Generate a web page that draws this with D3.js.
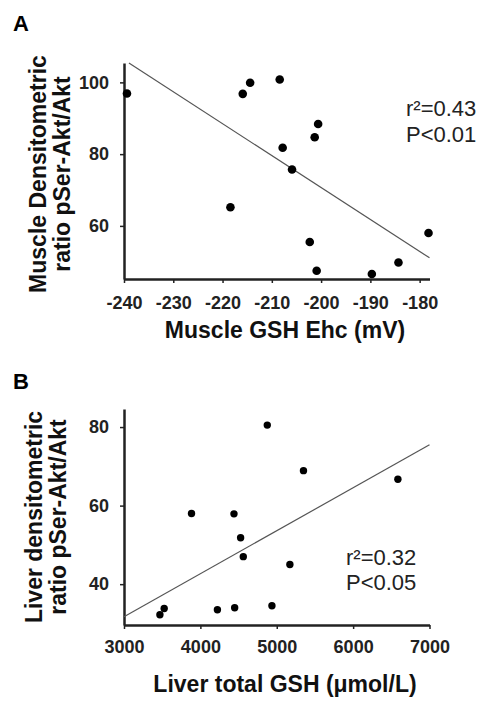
<!DOCTYPE html>
<html>
<head>
<meta charset="utf-8">
<script src="https://cdn.jsdelivr.net/npm/d3@7"></script>
<style>
  body { margin: 0; background: #fff; }
</style>
</head>
<body>
<script>
// Panel A: muscle GSH Ehc vs pSer-Akt/Akt
const muscleEhc = [-239.4, -215.9, -214.4, -208.4, -200.6, -201.3, -207.8, -205.9, -218.4, -202.3, -200.9, -189.7, -184.3, -178.2];
const muscleAkt = [96.9, 96.8, 99.9, 100.8, 88.4, 84.7, 81.8, 75.7, 65.2, 55.5, 47.5, 46.6, 49.8, 58.0];
const muscleFit = [[-239, 105.4], [-178, 51.1]];
const muscleTicksX = [-240, -230, -220, -210, -200, -190, -180];
const muscleTicksY = [60, 80, 100];

// Panel B: liver total GSH vs pSer-Akt/Akt
const liverGsh = [3470, 3526, 3884, 4223, 4440, 4449, 4527, 4562, 4876, 4937, 5172, 5350, 6586];
const liverAkt = [32.2, 33.8, 58.0, 33.5, 57.9, 34.0, 51.8, 47.0, 80.5, 34.5, 45.0, 68.9, 66.7];
const liverFit = [[3000, 31.7], [7000, 75.5]];
const liverTicksX = [3000, 4000, 5000, 6000, 7000];
const liverTicksY = [40, 60, 80];

const FONT = 'Arial, "Liberation Sans", Helvetica, sans-serif';

const svg = d3.select('body').append('svg')
    .attr('width', 483)
    .attr('height', 703)
    .style('font-family', FONT);

function styleAxis(a) {
    a.select('.domain').attr('stroke', '#222').attr('stroke-width', 2.5);
    a.selectAll('.tick line').attr('stroke', '#222').attr('stroke-width', 1.5);
    a.selectAll('.tick text')
        .style('font-family', FONT)
        .style('font-size', '18px')
        .style('font-weight', 'bold')
        .attr('fill', '#222');
}

function panel(cfg) {
    const x = d3.scaleLinear().domain(cfg.xDomain).range([124, 429.5]);
    const y = d3.scaleLinear().domain(cfg.yDomain).range([cfg.bottom, cfg.top]);
    const g = svg.append('g');
    const fmt = d => String(d);

    g.append('g')
        .attr('transform', `translate(0,${cfg.bottom})`)
        .call(d3.axisBottom(x).tickValues(cfg.ticksX).tickFormat(fmt)
            .tickSize(4).tickSizeOuter(0).tickPadding(cfg.padX))
        .call(styleAxis);

    g.append('g')
        .attr('transform', 'translate(124,0)')
        .call(d3.axisLeft(y).tickValues(cfg.ticksY).tickFormat(fmt)
            .tickSize(4).tickSizeOuter(0).tickPadding(11))
        .call(styleAxis);

    g.append('line')
        .attr('x1', x(cfg.fit[0][0])).attr('y1', y(cfg.fit[0][1]))
        .attr('x2', x(cfg.fit[1][0])).attr('y2', y(cfg.fit[1][1]))
        .attr('stroke', '#555').attr('stroke-width', 1.2);

    g.selectAll('circle.pt')
        .data(cfg.xs.map((v, i) => [v, cfg.ys[i]]))
        .join('circle')
        .attr('class', 'pt')
        .attr('cx', d => x(d[0]))
        .attr('cy', d => y(d[1]))
        .attr('r', cfg.r)
        .attr('fill', '#000');

    g.append('text')
        .attr('x', 13).attr('y', cfg.letterY)
        .style('font-size', '22px').style('font-weight', 'bold')
        .text(cfg.letter);

    const yt = g.append('text')
        .attr('transform', `translate(0,${cfg.yTitleY}) rotate(-90)`)
        .attr('text-anchor', 'middle')
        .style('font-size', '23px').style('font-weight', 'bold').attr('fill', '#111');
    yt.append('tspan').attr('x', 0).attr('y', cfg.yTitleX[0]).text(cfg.yTitle[0]);
    yt.append('tspan').attr('x', 0).attr('y', cfg.yTitleX[1]).text(cfg.yTitle[1]);

    g.append('text')
        .attr('x', 285).attr('y', cfg.xTitleY)
        .attr('text-anchor', 'middle')
        .style('font-size', '23px').style('font-weight', 'bold').attr('fill', '#111')
        .text(cfg.xTitle);

    const st = g.append('text')
        .style('font-size', '22px').attr('fill', '#222');
    st.append('tspan').attr('x', cfg.statX).attr('y', cfg.statY[0]).text(cfg.stat[0]);
    st.append('tspan').attr('x', cfg.statX).attr('y', cfg.statY[1]).text(cfg.stat[1]);
}

panel({
    xDomain: [-240, -178], yDomain: [45.2, 105.4], top: 63, bottom: 279,
    ticksX: muscleTicksX, ticksY: muscleTicksY, padX: 13,
    xs: muscleEhc, ys: muscleAkt, fit: muscleFit, r: 4.3,
    letter: 'A', letterY: 31,
    yTitle: ['Muscle Densitometric', 'ratio pSer-Akt/Akt'], yTitleY: 174, yTitleX: [46, 70],
    xTitle: 'Muscle GSH Ehc (mV)', xTitleY: 338,
    stat: ['r²=0.43', 'P<0.01'], statX: 406, statY: [116, 142]
});

panel({
    xDomain: [3000, 7000], yDomain: [29.6, 84.6], top: 409, bottom: 625,
    ticksX: liverTicksX, ticksY: liverTicksY, padX: 11,
    xs: liverGsh, ys: liverAkt, fit: liverFit, r: 3.7,
    letter: 'B', letterY: 389,
    yTitle: ['Liver densitometric', 'ratio pSer-Akt/Akt'], yTitleY: 517, yTitleX: [42, 66],
    xTitle: 'Liver total GSH (μmol/L)', xTitleY: 692,
    stat: ['r²=0.32', 'P<0.05'], statX: 346, statY: [565, 590]
});
</script>
</body>
</html>
